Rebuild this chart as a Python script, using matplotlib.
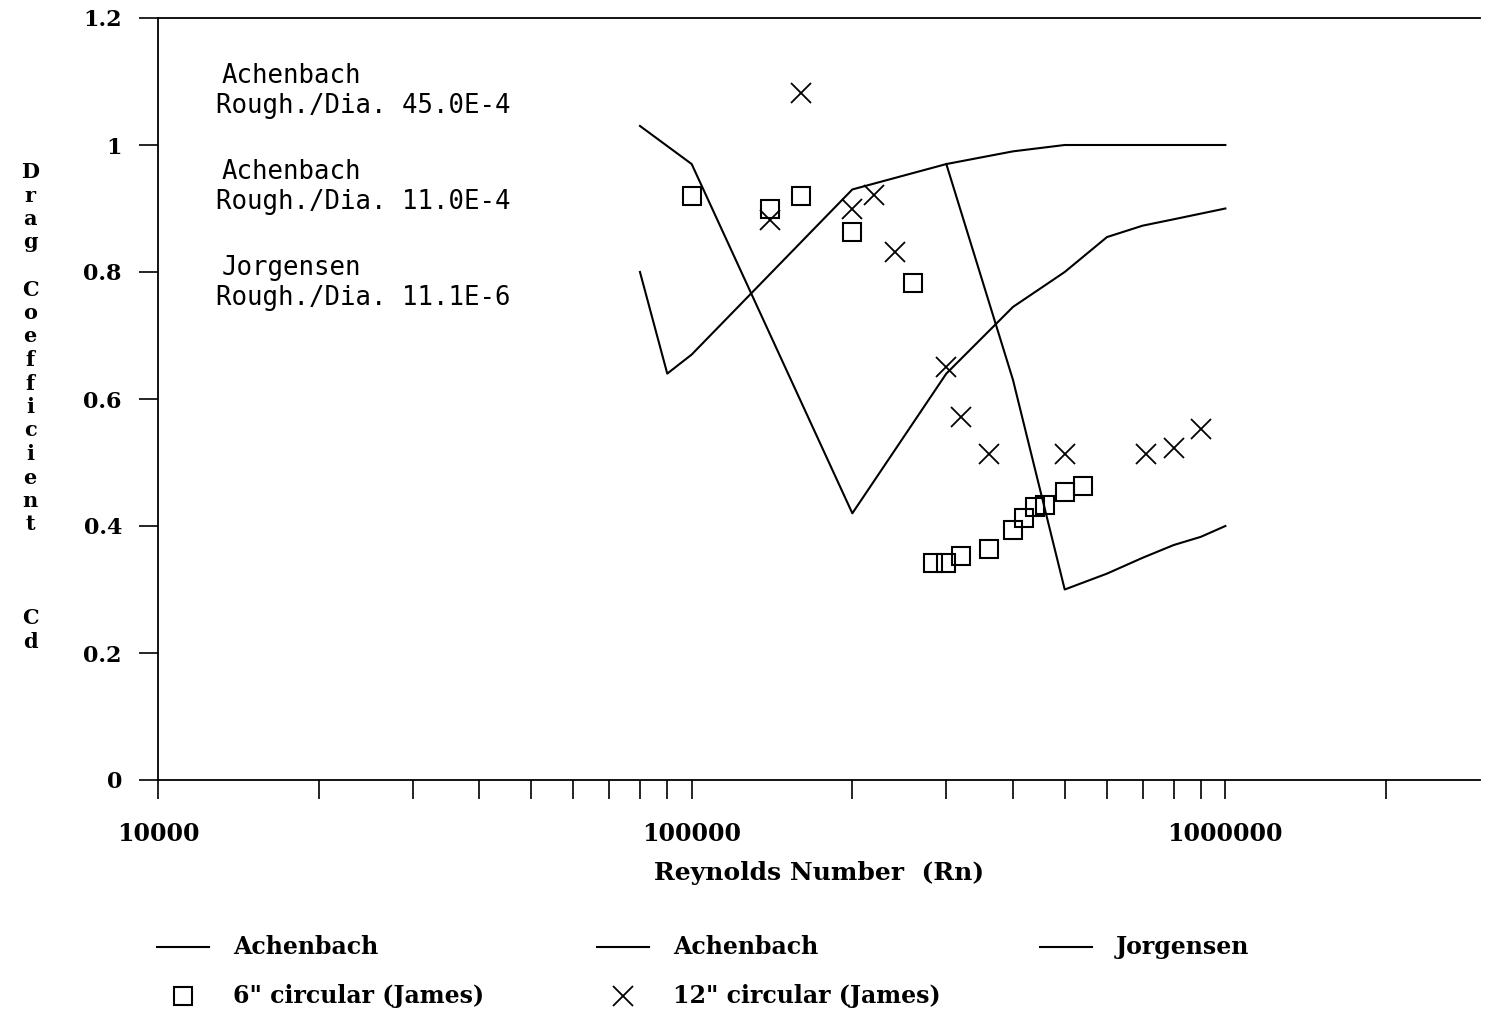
import matplotlib
matplotlib.use('Agg')
import matplotlib.pyplot as plt
from matplotlib.ticker import FixedLocator, NullFormatter

# Achenbach, roughness/diameter 45.0E-4
re_ach45 = [80000, 90000, 100000, 200000, 300000, 400000, 500000, 1000000]
cd_ach45 = [0.80, 0.64, 0.67, 0.93, 0.97, 0.99, 1.00, 1.00]

# Achenbach, roughness/diameter 11.0E-4
re_ach11 = [80000, 100000, 200000, 300000, 400000, 500000, 600000, 700000, 800000, 1000000]
cd_ach11 = [1.03, 0.97, 0.42, 0.64, 0.745, 0.80, 0.855, 0.873, 0.883, 0.90]

# Jorgensen, roughness/diameter 11.1E-6
re_jor = [300000, 400000, 500000, 600000, 700000, 800000, 900000, 1000000]
cd_jor = [0.97, 0.63, 0.30, 0.325, 0.35, 0.37, 0.383, 0.40]

# James, 6" circular cylinder
re_6in = [100000, 140000, 160000, 200000, 260000, 283000, 300000, 320000,
          360000, 400000, 420000, 440000, 460000, 500000, 540000]
cd_6in = [0.92, 0.90, 0.92, 0.863, 0.783, 0.342, 0.342, 0.353,
          0.364, 0.393, 0.413, 0.43, 0.433, 0.454, 0.463]

# James, 12" circular cylinder
re_12in = [140000, 160000, 200000, 220000, 240000, 300000, 320000, 360000,
           500000, 710000, 800000, 900000]
cd_12in = [0.882, 1.082, 0.90, 0.921, 0.832, 0.65, 0.572, 0.513,
           0.513, 0.513, 0.523, 0.552]

x_major = [10000, 100000, 1000000]
x_labels = ['10000', '100000', '1000000']
y_ticks = [0, 0.2, 0.4, 0.6, 0.8, 1.0, 1.2]
y_labels = ['0', '0.2', '0.4', '0.6', '0.8', '1', '1.2']

notes = [('Achenbach', 'Rough./Dia. 45.0E-4'),
         ('Achenbach', 'Rough./Dia. 11.0E-4'),
         ('Jorgensen', 'Rough./Dia. 11.1E-6')]

W, H = 1485, 1017
SERIF = 'DejaVu Serif'
MONO = 'DejaVu Sans Mono'
line_kw = dict(color='black', lw=1.5)
sq_kw = dict(marker='s', ms=13.5, mfc='none', mec='black', mew=1.5, ls='none')
x_kw = dict(marker='x', ms=14, mec='black', mew=1.3, ls='none')

fig = plt.figure(figsize=(W / 100, H / 100), dpi=100)
ax = fig.add_axes([158 / W, 1 - 780 / H, (1480 - 158) / W, (780 - 18) / H])

ax.plot(re_ach45, cd_ach45, **line_kw)
ax.plot(re_ach11, cd_ach11, **line_kw)
ax.plot(re_jor, cd_jor, **line_kw)
ax.plot(re_6in, cd_6in, **sq_kw)
ax.plot(re_12in, cd_12in, **x_kw)

ax.set_xscale('log')
ax.set_xlim(10000, 3.0e6)
ax.set_ylim(0, 1.2)

minor = [k * 10 ** d for d in (4, 5) for k in range(2, 10)] + [2000000]
ax.xaxis.set_major_locator(FixedLocator(x_major))
ax.xaxis.set_minor_locator(FixedLocator(minor))
ax.xaxis.set_minor_formatter(NullFormatter())
ax.set_xticklabels(x_labels, fontfamily=SERIF, fontweight='bold', fontsize=17)
ax.set_yticks(y_ticks)
ax.set_yticklabels(y_labels, fontfamily=SERIF, fontweight='bold', fontsize=16)
ax.tick_params(axis='x', which='both', direction='out', length=14, width=1.2, pad=16)
ax.tick_params(axis='y', direction='out', length=14, width=1.2, pad=12)
ax.spines['right'].set_visible(False)
for s in ('left', 'bottom', 'top'):
    ax.spines[s].set_linewidth(1.3)

ax.set_xlabel('Reynolds Number  (Rn)', fontfamily=SERIF, fontweight='bold',
              fontsize=18, labelpad=11)

# stacked y-axis title
ylab = 'Drag Coefficient   Cd'
y0, step = 172, 23.5
row = 0
for ch in ylab:
    if ch != ' ':
        fig.text(30 / W, 1 - (y0 + row * step) / H, ch, ha='center', va='center',
                 fontfamily=SERIF, fontweight='bold', fontsize=15)
    row += 1

# roughness notes
for i, (name, rough) in enumerate(notes):
    top = 76 + i * 96
    fig.text(222 / W, 1 - top / H, name, ha='left', va='center',
             fontfamily=MONO, fontsize=18.5)
    fig.text(216 / W, 1 - (top + 30) / H, rough, ha='left', va='center',
             fontfamily=MONO, fontsize=18.5)

# legend laid out under the axes in pixel units
lg = fig.add_axes([0, 0, 1, 1], facecolor='none')
lg.set_xlim(0, W)
lg.set_ylim(H, 0)
lg.axis('off')
leg_rows = [
    [('line', 157, 'Achenbach'), ('line', 597, 'Achenbach'), ('line', 1040, 'Jorgensen')],
    [('sq', 157, '6" circular (James)'), ('x', 597, '12" circular (James)')],
]
for r, items in enumerate(leg_rows):
    yy = 947 + r * 49
    for kind, x0, label in items:
        if kind == 'line':
            lg.plot([x0, x0 + 52], [yy, yy], **line_kw)
        elif kind == 'sq':
            lg.plot([x0 + 26], [yy], **sq_kw)
        else:
            lg.plot([x0 + 26], [yy], **x_kw)
        lg.text(x0 + 76, yy, label, ha='left', va='center', fontfamily=SERIF,
                fontweight='bold', fontsize=17)

fig.savefig('out.png', dpi=100)
